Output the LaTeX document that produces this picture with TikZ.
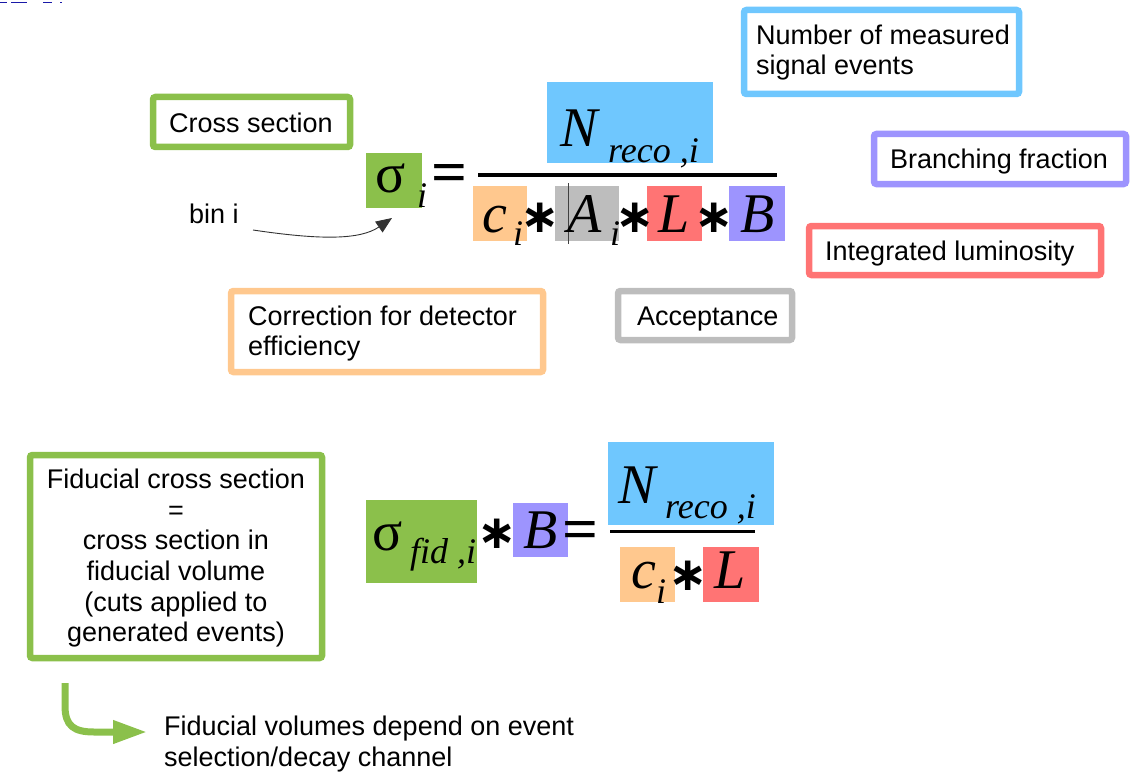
\documentclass[tikz,border=0pt]{standalone}
\usepackage{fontspec}
\usepackage{graphicx}
\setmainfont{Liberation Sans}
\newfontfamily\mserif{Liberation Serif}
\newfontfamily\msym{DejaVu Sans}
\usetikzlibrary{arrows.meta}

\definecolor{cgreen}{HTML}{8BC04B}
\definecolor{cblue}{HTML}{6FC7FE}
\definecolor{corange}{HTML}{FFC88E}
\definecolor{cgray}{HTML}{BDBDBD}
\definecolor{cred}{HTML}{FF7474}
\definecolor{cpurple}{HTML}{9D94FE}
\definecolor{cink}{HTML}{1A1AA8}

\tikzset{
  lbl/.style={inner sep=0pt, anchor=base west, font=\fontsize{27}{31}\selectfont},
  clbl/.style={inner sep=0pt, anchor=base, font=\fontsize{27}{31}\selectfont},
  frame/.style={draw=#1, line width=6.5pt, rounded corners=2.5pt, inner sep=0pt},
  patch/.style={fill=#1, inner sep=0pt, outer sep=0pt},
  big/.style={inner sep=0pt, anchor=base west, font=\mserif\itshape\fontsize{56}{60}\selectfont},
  bigup/.style={inner sep=0pt, anchor=base west, font=\mserif\fontsize{56}{60}\selectfont},
  sub/.style={inner sep=0pt, anchor=base west, font=\mserif\itshape\fontsize{36}{40}\selectfont},
  op/.style={inner sep=0pt},
  ast/.style={inner sep=0pt, anchor=base, font=\msym\bfseries\fontsize{47}{47}\selectfont},
}
\newcommand{\eqsign}{\resizebox{36pt}{28pt}{\mserif\bfseries =}}
\newcommand{\astsign}{\makebox[0pt]{∗}}

\begin{document}
\begin{tikzpicture}[x=1pt, y=-1pt]
\path[use as bounding box] (0,0) rectangle (1138,773);

% stray marks along the top edge
\draw[cink, line width=1pt] (0,3) -- (7,3) (11,3) -- (27,3) (43,3) -- (52,3) (60,3) -- (62,3);

% ---------- explanation frames ----------
\node[frame=cblue, minimum width=275pt, minimum height=84pt] (numbox) at (881.5,52) {};
\node[lbl] (num1) at (756,45) {Number of measured};
\node[lbl] (num2) at (756,75) {signal events};

\node[frame=cgreen, minimum width=197pt, minimum height=50pt] (xsbox) at (251.5,122) {};
\node[lbl] (xs) at (169,133) {Cross section};

\node[frame=cpurple, minimum width=252pt, minimum height=50pt] (brbox) at (1000,159) {};
\node[lbl] (br) at (890,168) {Branching fraction};

\node[frame=cred, minimum width=292pt, minimum height=49pt] (lumibox) at (955,250.5) {};
\node[lbl] (lumi) at (825,260) {Integrated luminosity};

\node[frame=corange, minimum width=312pt, minimum height=81pt] (effbox) at (387,331.5) {};
\node[lbl] (eff1) at (248,325) {Correction for detector};
\node[lbl] (eff2) at (248,355) {efficiency};

\node[frame=cgray, minimum width=174pt, minimum height=49pt] (accbox) at (705,315.5) {};
\node[lbl] (acc) at (637,325) {Acceptance};

\node[frame=cgreen, minimum width=292pt, minimum height=203pt] (fidbox) at (176,556.5) {};
\node[clbl] (fid1) at (176,488) {Fiducial cross section};
\node[clbl] (fid2) at (176,519) {=};
\node[clbl] (fid3) at (176,549) {cross section in};
\node[clbl] (fid4) at (176,580) {fiducial volume};
\node[clbl] (fid5) at (176,611) {(cuts applied to};
\node[clbl] (fid6) at (176,641) {generated events)};

% ---------- first formula ----------
\node[patch=cgreen, minimum width=56pt, minimum height=55pt] (sig1) at (394,180.5) {};
\node[patch=cblue, minimum width=166pt, minimum height=81pt] (n1) at (630,122.5) {};
\node[patch=corange, minimum width=54pt, minimum height=55pt] (c1) at (500,213.5) {};
\node[patch=cgray, minimum width=64pt, minimum height=55pt] (a1) at (587,213.5) {};
\node[patch=cred, minimum width=55pt, minimum height=55pt] (l1) at (674.5,213.5) {};
\node[patch=cpurple, minimum width=56pt, minimum height=55pt] (b1) at (757,213.5) {};

\node[bigup] (sigma1) at (375,192) {σ};
\node[sub] (sigsub1) at (417,207) {i};
\node[op] (eq1) at (449.5,179) {\eqsign};
\draw[line width=3pt] (478,175) coordinate (bar1l) -- (777,175) coordinate (bar1r);
\node[big] (nn1) at (560,147) {N};
\node[sub] (nsub1) at (608,162) {reco ,i};
\node[big] (cc1) at (482,232) {c};
\node[sub] (csub1) at (513,245) {i};
\node[ast] (ast1) at (540.5,232) {\astsign};
\draw[black!75, line width=0.8pt] (568,183) -- (568,244);
\node[big] (aa1) at (567,232) {A};
\node[sub] (asub1) at (610,245) {i};
\node[ast] (ast2) at (635.5,232) {\astsign};
\node[big] (ll1) at (658,232) {L};
\node[ast] (ast3) at (714.5,232) {\astsign};
\node[big] (bb1) at (740,232) {B};

% bin label and its pointer
\node[lbl] (bin) at (189,223) {bin i};
\coordinate (binfrom) at (253,230);
\coordinate (binto) at (392,218);
\draw[black!80, line width=0.9pt, -{Triangle[length=16pt, width=13pt]}]
  (binfrom) .. controls (320,240) and (360,240) .. (binto);

% ---------- second formula ----------
\node[patch=cgreen, minimum width=111pt, minimum height=83pt] (sig2) at (421.5,541.5) {};
\node[patch=cpurple, minimum width=55pt, minimum height=54pt] (b2) at (540.5,530) {};
\node[patch=cblue, minimum width=166pt, minimum height=83pt] (n2) at (691,483.5) {};
\node[patch=corange, minimum width=55pt, minimum height=55pt] (c2) at (647.5,574.5) {};
\node[patch=cred, minimum width=56pt, minimum height=55pt] (l2) at (731,574.5) {};

\node[bigup] (sigma2) at (372,550) {σ};
\node[sub] (sigsub2) at (410,563) {fid ,i};
\node[ast] (ast4) at (497.5,548) {\astsign};
\node[big] (bb2) at (523,548) {B};
\node[op] (eq2) at (581,535) {\eqsign};
\node[big] (nn2) at (618,503) {N};
\node[sub] (nsub2) at (665,518) {reco ,i};
\draw[line width=3pt] (610,531) coordinate (bar2l) -- (755,531) coordinate (bar2r);
\node[big] (cc2) at (631,588) {c};
\node[sub] (csub2) at (656,603) {i};
\node[ast] (ast5) at (688,590) {\astsign};
\node[big] (ll2) at (714,588) {L};

% ---------- closing remark ----------
\coordinate (turnfrom) at (65,683);
\coordinate (turnto) at (147,732);
\draw[cgreen, line width=7pt, -{Triangle[length=34pt, width=22pt]}]
  (turnfrom) -- (65,706) .. controls (65,726) and (74,732) .. (94,732) -- (turnto);
\node[lbl] (note1) at (164,735) {Fiducial volumes depend on event};
\node[lbl] (note2) at (164,766) {selection/decay channel};
\end{tikzpicture}
\end{document}
